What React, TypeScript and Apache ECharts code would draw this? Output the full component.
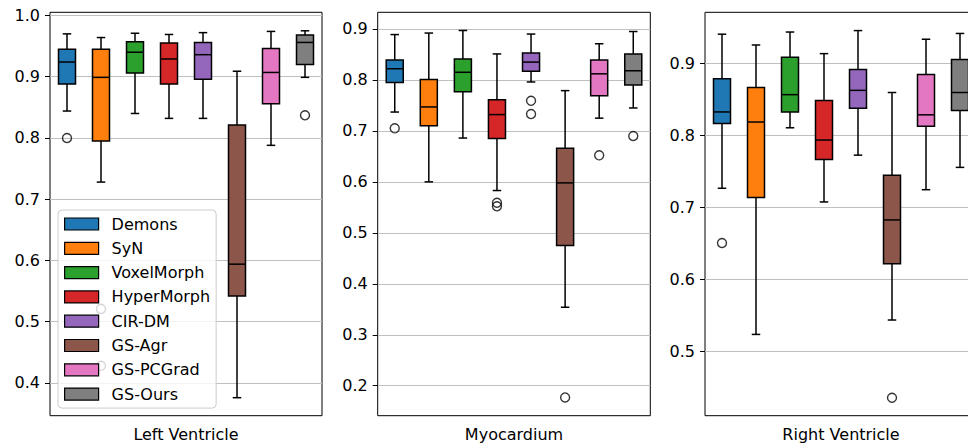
import React, { useEffect, useRef } from "react";
import * as echarts from "echarts";

const methods = ["Demons", "SyN", "VoxelMorph", "HyperMorph", "CIR-DM", "GS-Agr", "GS-PCGrad", "GS-Ours"];
const colors = ["#1f77b4", "#ff7f0e", "#2ca02c", "#d62728", "#9467bd", "#8c564b", "#e377c2", "#7f7f7f"];
const panelTitles = ["Left Ventricle", "Myocardium", "Right Ventricle"];

// [lower whisker, Q1, median, Q3, upper whisker]
const lvStats = [
  [0.844, 0.888, 0.924, 0.945, 0.970],
  [0.728, 0.795, 0.899, 0.945, 0.964],
  [0.840, 0.906, 0.940, 0.957, 0.971],
  [0.832, 0.888, 0.929, 0.955, 0.969],
  [0.832, 0.896, 0.936, 0.956, 0.972],
  [0.376, 0.542, 0.594, 0.821, 0.909],
  [0.788, 0.856, 0.907, 0.946, 0.974],
  [0.899, 0.920, 0.956, 0.968, 0.975],
];
const lvOutliers = [[0.800], [0.521, 0.428], [], [], [], [], [], [0.837]];

const myoStats = [
  [0.737, 0.795, 0.822, 0.839, 0.889],
  [0.600, 0.710, 0.747, 0.801, 0.892],
  [0.686, 0.777, 0.815, 0.841, 0.897],
  [0.583, 0.685, 0.732, 0.761, 0.851],
  [0.796, 0.817, 0.835, 0.853, 0.890],
  [0.354, 0.475, 0.598, 0.666, 0.779],
  [0.725, 0.769, 0.812, 0.839, 0.871],
  [0.745, 0.790, 0.818, 0.851, 0.895],
];
const myoOutliers = [[0.705], [], [], [0.559, 0.552], [0.759, 0.733], [0.177], [0.652], [0.690]];

const rvStats = [
  [0.727, 0.817, 0.833, 0.879, 0.941],
  [0.524, 0.714, 0.819, 0.867, 0.926],
  [0.811, 0.833, 0.857, 0.909, 0.944],
  [0.708, 0.767, 0.794, 0.849, 0.914],
  [0.773, 0.838, 0.863, 0.892, 0.946],
  [0.544, 0.622, 0.683, 0.745, 0.860],
  [0.725, 0.813, 0.829, 0.885, 0.934],
  [0.756, 0.835, 0.860, 0.906, 0.942],
];
const rvOutliers = [[0.651], [], [], [], [], [0.436], [], []];

const yRanges = [
  [0.3466, 1.0052],
  [0.1412, 0.9327],
  [0.4111, 0.9714],
];
const yTicks = [
  [0.4, 0.5, 0.6, 0.7, 0.8, 0.9, 1.0],
  [0.2, 0.3, 0.4, 0.5, 0.6, 0.7, 0.8, 0.9],
  [0.5, 0.6, 0.7, 0.8, 0.9],
];

const FONT = "DejaVu Sans";

export default function App() {
  const ref = useRef<HTMLDivElement>(null);
  useEffect(() => {
    if (!ref.current) return;
    const chart = echarts.init(ref.current, null, { renderer: "svg" });
    const allStats = [lvStats, myoStats, rvStats];
    const allOut = [lvOutliers, myoOutliers, rvOutliers];
    const gridLefts = [50, 377.7, 705];
    const gridWidths = [272, 272.6, 272];

    const grids = gridLefts.map((l, i) => ({
      left: l,
      top: 12.3,
      width: gridWidths[i],
      height: 403.4,
      show: true,
      borderColor: "#000",
      borderWidth: 1,
      backgroundColor: "transparent",
      containLabel: false,
      outerBoundsMode: "none",
    }));

    const xAxes = panelTitles.map((t, i) => ({
      type: "category",
      gridIndex: i,
      data: methods,
      boundaryGap: true,
      name: t,
      nameLocation: "middle",
      nameGap: 11,
      nameTextStyle: { fontFamily: FONT, fontSize: 16, color: "#000", verticalAlign: "top" },
      axisLine: { show: false },
      axisTick: { show: false },
      axisLabel: { show: false },
      splitLine: { show: false },
    }));

    const yAxes = yRanges.map((r, i) => ({
      type: "value",
      gridIndex: i,
      min: r[0],
      max: r[1],
      axisLine: { show: false },
      axisTick: { show: true, length: 5, lineStyle: { color: "#000", width: 1 }, customValues: yTicks[i] },
      axisLabel: {
        fontFamily: FONT,
        fontSize: 16,
        color: "#000",
        margin: 10,
        customValues: yTicks[i],
        formatter: (v: number) => v.toFixed(1),
      },
      splitLine: { show: true, lineStyle: { color: "#c0c0c0", width: 1 } },
    }));

    const series: any[] = [];
    allStats.forEach((stats, p) => {
      stats.forEach((s, m) => {
        series.push({
          type: "custom",
          name: methods[m],
          xAxisIndex: p,
          yAxisIndex: p,
          itemStyle: { color: colors[m] },
          encode: { x: 0, y: [1, 2, 3, 4, 5] },
          data: [[m, ...s]],
          renderItem: (params: any, api: any) => {
            const x = api.value(0);
            const lo = api.coord([x, api.value(1)]);
            const q1 = api.coord([x, api.value(2)]);
            const med = api.coord([x, api.value(3)]);
            const q3 = api.coord([x, api.value(4)]);
            const hi = api.coord([x, api.value(5)]);
            const band = api.size([1, 0])[0];
            const bw = band * 0.5;
            const cw = bw / 2;
            const cx = lo[0];
            const ls = { stroke: "#000", lineWidth: 1.5, fill: null };
            return {
              type: "group",
              children: [
                { type: "line", shape: { x1: cx, y1: hi[1], x2: cx, y2: q3[1] }, style: ls },
                { type: "line", shape: { x1: cx, y1: q1[1], x2: cx, y2: lo[1] }, style: ls },
                { type: "line", shape: { x1: cx - cw / 2, y1: hi[1], x2: cx + cw / 2, y2: hi[1] }, style: ls },
                { type: "line", shape: { x1: cx - cw / 2, y1: lo[1], x2: cx + cw / 2, y2: lo[1] }, style: ls },
                {
                  type: "rect",
                  shape: { x: cx - bw / 2, y: q3[1], width: bw, height: q1[1] - q3[1] },
                  style: { fill: colors[m], stroke: "#000", lineWidth: 1.5 },
                },
                { type: "line", shape: { x1: cx - bw / 2, y1: med[1], x2: cx + bw / 2, y2: med[1] }, style: ls },
              ],
            };
          },
        });
      });
      const outData: number[][] = [];
      allOut[p].forEach((vals, m) => vals.forEach((v) => outData.push([m, v])));
      series.push({
        type: "scatter",
        name: "outliers",
        xAxisIndex: p,
        yAxisIndex: p,
        symbol: "circle",
        symbolSize: 9,
        itemStyle: { color: "rgba(0,0,0,0)", borderColor: "#000", borderWidth: 1.4 },
        data: outData,
        z: 3,
      });
    });

    chart.setOption({
      animation: false,
      grid: grids,
      xAxis: xAxes,
      yAxis: yAxes,
      legend: {
        show: true,
        orient: "vertical",
        left: 58,
        top: 210,
        padding: [6, 6, 6, 6],
        itemWidth: 34,
        itemHeight: 12,
        itemGap: 8.3,
        icon: "rect",
        backgroundColor: "rgba(255,255,255,0.8)",
        borderColor: "#cccccc",
        borderWidth: 1,
        borderRadius: 4,
        selectedMode: false,
        textStyle: { fontFamily: FONT, fontSize: 16, color: "#000", lineHeight: 16, padding: [0, 0, 0, 8] },
        data: methods.map((n, i) => ({
          name: n,
          itemStyle: { color: colors[i], borderColor: "#000", borderWidth: 1.2 },
        })),
      },
      series,
    });
    return () => chart.dispose();
  }, []);

  return (
    <div style={{ position: "fixed", left: 0, top: 0, width: 968, height: 444, overflow: "hidden", background: "#fff" }}>
      <div ref={ref} style={{ width: 990, height: 444 }} />
    </div>
  );
}
